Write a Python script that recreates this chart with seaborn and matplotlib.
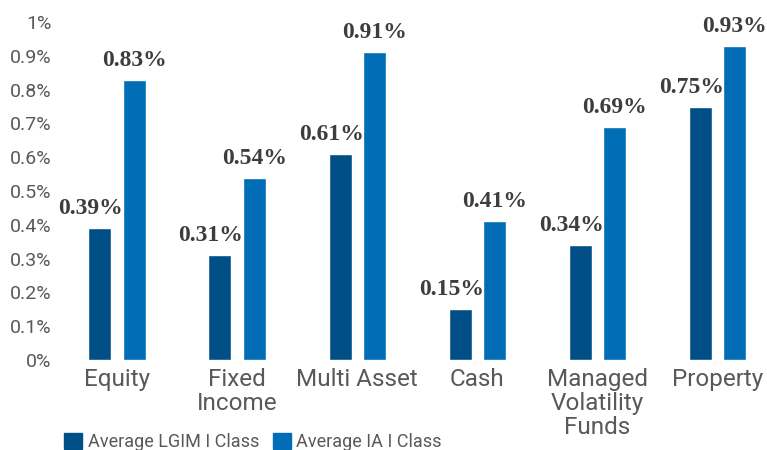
import matplotlib
matplotlib.use("Agg")
import matplotlib.pyplot as plt
import pandas as pd
import seaborn as sns
from matplotlib.ticker import FuncFormatter
from matplotlib.transforms import offset_copy

categories = ["Equity", "Fixed\nIncome", "Multi Asset", "Cash", "Managed\nVolatility\nFunds", "Property"]
series = ["Average LGIM I Class", "Average IA I Class"]
lgim_values = [0.39, 0.31, 0.61, 0.15, 0.34, 0.75]
ia_values = [0.83, 0.54, 0.91, 0.41, 0.69, 0.93]
colors = ["#004F87", "#006DB6"]
text_grey = "#595959"

df = pd.DataFrame({
    "category": categories * 2,
    "series": [series[0]] * len(categories) + [series[1]] * len(categories),
    "value": lgim_values + ia_values,
})

sns.set_style("white")
plt.rcParams["font.family"] = ["Roboto", "DejaVu Sans"]

fig = plt.figure(figsize=(7.67, 4.5), dpi=100)
ax = fig.add_axes([0.078, 0.2, 0.922, 0.751])

sns.barplot(data=df, x="category", y="value", hue="series", order=categories,
            hue_order=series, palette=colors, width=0.57, gap=0.33,
            saturation=1, ax=ax)

ax.set_ylim(0, 1.0)
ax.set_xlim(-0.475, 5.41)
ax.set_yticks([i / 10 for i in range(11)])
ax.yaxis.set_major_formatter(FuncFormatter(lambda v, _: f"{v:.1f}%".replace("0.0%", "0%").replace("1.0%", "1%")))
ax.tick_params(axis="y", labelsize=14, colors=text_grey, length=0, pad=6)
ax.tick_params(axis="x", labelsize=17.5, colors=text_grey, length=0, pad=6)
for lbl in ax.get_xticklabels():
    lbl.set_linespacing(1.05)
ax.set_xlabel("")
ax.set_ylabel("")
sns.despine(ax=ax, left=True, bottom=True)

# value labels: dark bars nudged left like the original
for cont, dx in zip(ax.containers, [-9, 0]):
    for bar in cont:
        h = bar.get_height()
        tr = offset_copy(ax.transData, fig=fig, x=dx, y=9, units="dots")
        ax.text(bar.get_x() + bar.get_width() / 2, h, f"{h:.2f}%", transform=tr,
                ha="center", va="bottom", fontsize=17, fontweight="bold",
                family=["Liberation Serif", "DejaVu Serif"], color="#3d3d3d")

ax.get_legend().remove()
handles = [plt.Rectangle((0, 0), 1, 1, color=c) for c in colors]
fig.legend(handles, series, loc="center left", bbox_to_anchor=(0.084, 0.018),
           ncol=2, frameon=False, fontsize=13, handlelength=1.0, handleheight=1.0,
           handletextpad=0.3, columnspacing=0.75, labelcolor=text_grey,
           borderaxespad=0, borderpad=0)

fig.savefig("out.png", dpi=100)
